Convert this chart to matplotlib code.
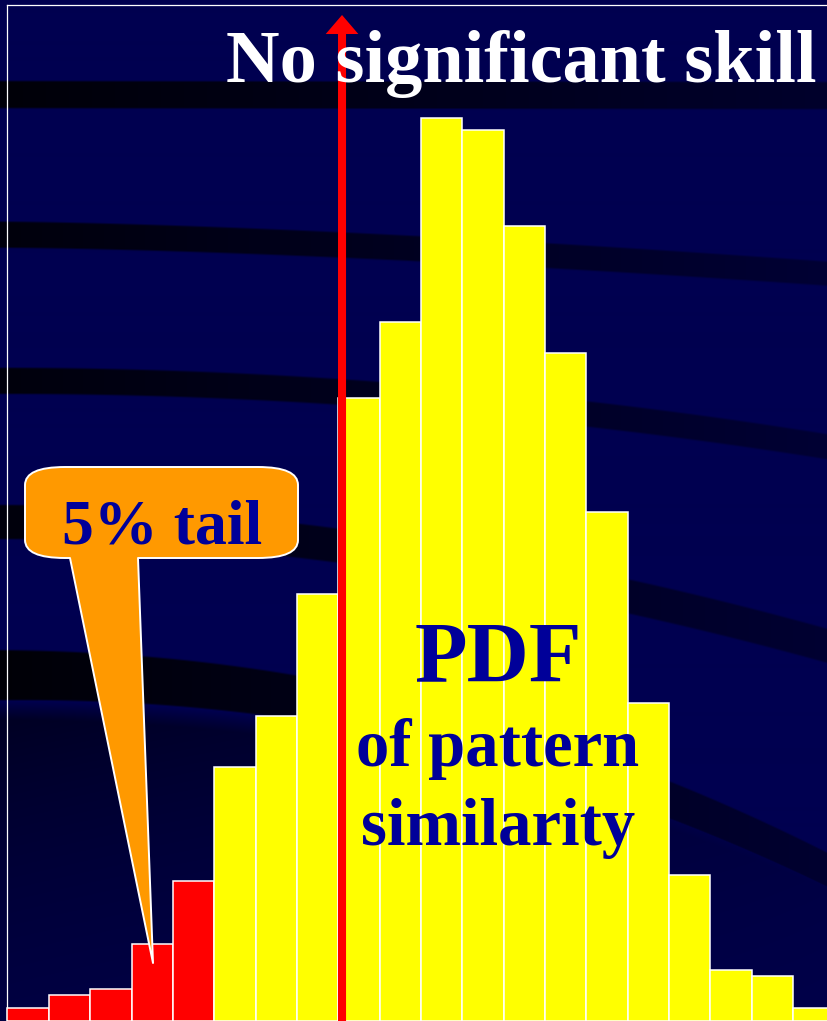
import matplotlib.pyplot as plt
import numpy as np
from matplotlib.path import Path
from matplotlib.patches import PathPatch

# bin heights of the similarity histogram (arbitrary units)
bin_heights = [13, 26, 32, 77, 140, 254, 305, 427, 623, 699,
               903, 891, 795, 668, 509, 318, 146, 51, 45, 13]
n_tail = 5                      # bins that make up the 5% tail
skill_threshold = 8.09          # position of the "no skill" line, in bin units

title_text = "No significant skill"
tail_text = "5% tail"
pdf_lines = ["PDF", "of pattern", "similarity"]

BG_RGB = np.array([0, 0, 80]) / 255
TAIL_COLOR = "#FF0000"
BODY_COLOR = "#FFFF00"
CALLOUT_COLOR = "#FF9900"
TEXT_NAVY = "#000099"
SERIF = ["Liberation Serif", "DejaVu Serif"]

W, H = 828, 1021
fig = plt.figure(figsize=(W / 100, H / 100), dpi=100)
fig.patch.set_facecolor(BG_RGB)

# background: slide-style navy with dark curved bands (decoration only)
bg = fig.add_axes([0, 0, 1, 1])
bg.set_xlim(0, W)
bg.set_ylim(H, 0)
bg.axis("off")
yy, xx = np.mgrid[0:H, 0:W].astype(float)
t = xx / W
shade = np.ones((H, W))
# left y, right y, bend power, left width, right width, left dark, right dark
bands = [
    (95, 96, 1.0, 27, 27, 0.9, 0.45),
    (235, 274, 1.5, 26, 24, 0.85, 0.35),
    (381, 447, 2.0, 26, 25, 0.85, 0.35),
    (522, 646, 1.85, 34, 34, 0.85, 0.38),
    (675, 870, 2.1, 50, 34, 0.92, 0.4),
]
for yl, yr, p, wl, wr, dl, dr in bands:
    yc = yl + (yr - yl) * t ** p
    half = (wl + (wr - wl) * t) / 2
    dark = dl + (dr - dl) * t
    m = np.clip((half - np.abs(yy - yc)) / 2 + 0.5, 0, 1)
    shade = np.minimum(shade, 1 - dark * m)
# soft dark wash below the lowest band on the left
yc = 700 + 170 * t ** 2.1
below = np.clip((yy - yc) / 20, 0, 1) * np.exp(-np.clip(yy - yc, 0, None) / 260)
shade = np.minimum(shade, 1 - 0.6 * below * (1 - 0.75 * t))
img = BG_RGB[None, None, :] * shade[..., None]
bg.imshow(img, extent=(0, W, H, 0), aspect="auto", interpolation="bilinear")

# frame
bg.plot([7.5, 7.5], [H, 5], color="white", lw=0.9)
bg.plot([7.5, W], [5, 5], color="white", lw=0.9)

# histogram
ax = fig.add_axes([0, 0, 1, 1], facecolor="none")
bin_w = 41.35
x0 = 7.5
ax.set_xlim(-x0 / bin_w, (W - x0) / bin_w)
ax.set_ylim(0, H)
ax.axis("off")
colors = [TAIL_COLOR if i < n_tail else BODY_COLOR for i in range(len(bin_heights))]
ax.bar(np.arange(len(bin_heights)), bin_heights, width=1, align="edge",
       color=colors, edgecolor="white", linewidth=1.1)

ax.annotate("", xy=(skill_threshold, H - 15), xytext=(skill_threshold, -5),
            arrowprops=dict(width=5.8, headwidth=23.5, headlength=13.7,
                            shrink=0, lw=0, color="red"))

# overlay: titles and callout in pixel space
ov = fig.add_axes([0, 0, 1, 1], facecolor="none")
ov.set_xlim(0, W)
ov.set_ylim(H, 0)
ov.axis("off")

ov.text(817, 82, title_text, ha="right", va="baseline", color="white",
        fontsize=53.5, fontweight="bold", family=SERIF)

# callout box with pointer
L, R, T, B = 25, 298, 467, 558
rx, ry = 40, 18
tip = (153, 963)
verts = [
    (L + rx, T), (R - rx, T), (R, T), (R, T + ry), (R, B - ry), (R, B), (R - rx, B),
    (138, B), tip, (70, B), (L + rx, B), (L, B), (L, B - ry), (L, T + ry), (L, T),
    (L + rx, T), (L + rx, T),
]
codes = [
    Path.MOVETO, Path.LINETO, Path.CURVE3, Path.CURVE3, Path.LINETO, Path.CURVE3,
    Path.CURVE3, Path.LINETO, Path.LINETO, Path.LINETO, Path.LINETO, Path.CURVE3,
    Path.CURVE3, Path.LINETO, Path.CURVE3, Path.CURVE3, Path.CLOSEPOLY,
]
ov.add_patch(PathPatch(Path(verts, codes), facecolor=CALLOUT_COLOR,
                       edgecolor="white", lw=1.4, joinstyle="round"))
ov.text(162, 543, tail_text, ha="center", va="baseline", color=TEXT_NAVY,
        fontsize=46, fontweight="bold", family=SERIF)

ov.text(498, 681, pdf_lines[0], ha="center", va="baseline", color=TEXT_NAVY,
        fontsize=62, fontweight="bold", family=SERIF)
ov.text(498, 766, pdf_lines[1], ha="center", va="baseline", color=TEXT_NAVY,
        fontsize=48, fontweight="bold", family=SERIF)
ov.text(498, 845, pdf_lines[2], ha="center", va="baseline", color=TEXT_NAVY,
        fontsize=48, fontweight="bold", family=SERIF)

fig.savefig("out.png", dpi=100, facecolor=BG_RGB)
